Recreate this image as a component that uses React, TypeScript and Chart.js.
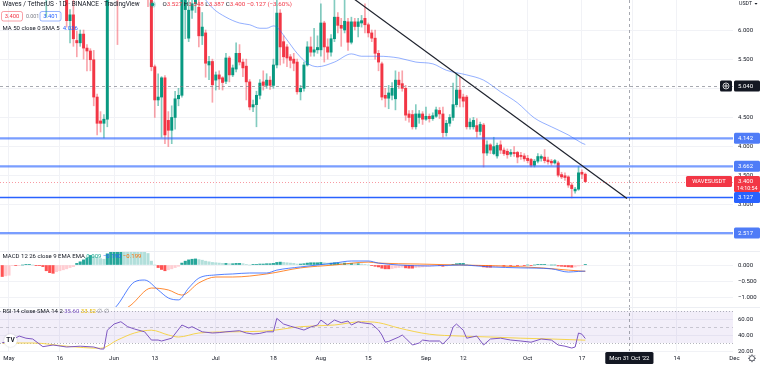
import React, { useEffect, useRef } from "react";
import { Chart, registerables } from "chart.js";

Chart.register(...registerables);

// ================= DATA =================
// day index: 0 = 1 May 2022 ; first candle = 29 Apr 2022
const FIRST_DAY = -2;

const opens = [
  8.6, 8.4, 8.2, 7.8, 7.9, 8.1, 7.7, 7.3, 7.2, 7.1,
  6.9, 7.4, 7.2, 6.8, 6.9, 7.2, 7.3, 7.0, 6.9, 6.7,
  6.16, 6.26, 5.82, 5.78, 5.93, 5.69, 5.64, 5.49, 4.85, 4.44,
  4.4, 4.47, 6.8, 7.2, 7.0, 6.9, 7.1, 7.3, 7.2, 6.9,
  7.1, 6.9, 6.8, 6.9, 6.55, 5.37, 4.8, 4.85, 5.18, 4.45,
  4.28, 4.5, 4.82, 4.88, 6.35, 5.86, 6.34, 6.45, 6.39, 5.9,
  5.95, 5.40, 5.46, 5.14, 5.23, 5.18, 5.12, 5.52, 5.23, 5.33,
  5.6, 5.45, 5.38, 5.11, 4.68, 4.72, 4.88, 5.11, 5.05, 5.14,
  5.05, 5.4, 6.29, 5.8, 5.71, 5.54, 5.5, 5.45, 4.94, 5.0,
  5.4, 5.71, 5.62, 5.66, 5.66, 6.12, 5.71, 5.62, 5.85, 6.22,
  6.08, 6.0, 6.14, 5.79, 6.14, 6.06, 6.12, 6.2, 6.09, 5.95,
  5.86, 5.6, 5.42, 4.88, 4.83, 4.88, 4.82, 5.14, 5.08, 5.0,
  4.56, 4.55, 4.34, 4.5, 4.56, 4.47, 4.52, 4.48, 4.52, 4.62,
  4.56, 4.24, 4.4, 4.5, 4.72, 4.97, 4.85, 4.85, 4.34, 4.34,
  4.36, 4.26, 4.37, 3.89, 4.03, 3.88, 3.84, 4.03, 3.94, 3.92,
  3.87, 3.9, 3.9, 3.85, 3.84, 3.8, 3.78, 3.68, 3.75, 3.8,
  3.82, 3.77, 3.75, 3.72, 3.72, 3.52, 3.5, 3.48, 3.34, 3.24,
  3.27, 3.56, 3.527,
];
const highs = [
  9.0, 8.8, 8.5, 8.1, 8.3, 8.4, 7.9, 7.6, 7.5, 7.3,
  7.6, 7.8, 7.3, 7.0, 7.4, 7.5, 7.4, 7.2, 7.1, 6.9,
  6.35, 6.6, 5.98, 6.0, 6.0, 5.75, 5.68, 5.65, 4.9, 4.6,
  4.55, 7.0, 7.4, 7.6, 7.2, 7.3, 7.5, 7.6, 7.4, 7.3,
  7.3, 7.1, 7.0, 7.0, 6.7, 5.4, 5.25, 5.2, 5.22, 4.6,
  4.7, 4.95, 5.0, 6.9, 6.9, 6.6, 6.6, 6.8, 6.7, 6.3,
  6.0, 5.55, 5.5, 5.28, 5.3, 5.2, 5.6, 5.55, 5.4, 5.78,
  5.75, 5.5, 5.5, 5.15, 4.8, 4.95, 5.15, 5.3, 5.25, 5.2,
  5.5, 6.6, 6.35, 5.9, 5.75, 5.58, 5.6, 5.5, 5.05, 5.45,
  5.8, 5.88, 6.03, 5.9, 6.45, 6.15, 5.85, 5.92, 6.55, 6.3,
  6.2, 6.6, 6.2, 6.22, 6.2, 6.2, 6.25, 6.45, 6.12, 6.0,
  6.0, 5.65, 5.45, 5.0, 5.05, 5.1, 5.3, 5.28, 5.3, 5.05,
  4.62, 4.62, 4.72, 4.62, 4.6, 4.68, 4.56, 4.58, 4.68, 4.67,
  4.68, 4.45, 4.55, 5.09, 5.26, 5.19, 4.9, 4.88, 4.48, 4.5,
  4.48, 4.42, 4.4, 4.1, 4.05, 4.16, 4.06, 4.1, 3.98, 3.96,
  3.95, 4.0, 3.92, 3.9, 3.88, 3.85, 3.8, 3.78, 3.88, 3.86,
  3.95, 3.82, 3.78, 3.78, 3.75, 3.56, 3.55, 3.5, 3.38, 3.3,
  3.66, 3.6, 3.548,
];
const lows = [
  8.2, 8.0, 7.6, 7.4, 7.7, 7.6, 7.1, 6.9, 6.9, 6.7,
  6.8, 7.0, 6.6, 6.22, 6.8, 6.9, 6.9, 6.7, 6.6, 6.05,
  5.78, 5.72, 5.54, 5.72, 5.5, 5.3, 5.3, 4.7, 4.2, 4.25,
  4.15, 4.34, 6.6, 6.9, 5.75, 6.7, 6.9, 7.0, 6.8, 6.7,
  6.8, 6.6, 6.55, 6.4, 5.3, 4.5, 4.7, 4.16, 4.05, 4.0,
  4.05, 4.3, 4.7, 4.85, 5.85, 5.8, 6.2, 6.3, 5.71, 5.75,
  5.19, 5.15, 4.76, 4.97, 4.98, 4.97, 5.08, 5.11, 5.2, 5.28,
  5.4, 5.2, 4.8, 4.63, 4.6, 4.34, 4.82, 4.97, 5.0, 4.98,
  5.0, 5.35, 5.4, 5.43, 5.37, 5.35, 5.3, 4.9, 4.8, 4.95,
  5.38, 5.55, 5.55, 5.6, 5.55, 5.45, 5.5, 5.55, 5.8, 5.95,
  5.72, 5.95, 5.65, 5.76, 6.0, 5.88, 6.05, 5.95, 5.88, 5.8,
  5.5, 5.3, 4.8, 4.68, 4.65, 4.8, 4.63, 5.0, 4.95, 4.45,
  4.42, 4.3, 4.3, 4.4, 4.38, 4.45, 4.42, 4.45, 4.5, 4.48,
  4.16, 4.18, 4.35, 4.45, 4.68, 4.68, 4.68, 4.3, 4.3, 4.3,
  4.16, 4.2, 3.65, 3.85, 3.88, 3.86, 3.8, 3.88, 3.85, 3.8,
  3.83, 3.83, 3.72, 3.78, 3.75, 3.72, 3.65, 3.65, 3.72, 3.75,
  3.72, 3.7, 3.68, 3.7, 3.48, 3.45, 3.42, 3.3, 3.12, 3.2,
  3.25, 3.45, 3.387,
];
const closes = [
  8.4, 8.2, 7.8, 7.9, 8.1, 7.7, 7.3, 7.2, 7.1, 6.9,
  7.4, 7.2, 6.8, 6.9, 7.2, 7.3, 7.0, 6.9, 6.7, 6.16,
  6.26, 5.85, 5.78, 5.93, 5.69, 5.64, 5.49, 4.85, 4.4, 4.4,
  4.47, 6.8, 7.2, 7.0, 6.9, 7.1, 7.3, 7.2, 6.9, 7.1,
  6.9, 6.8, 6.9, 6.55, 5.37, 4.8, 4.85, 5.18, 4.2, 4.28,
  4.5, 4.82, 4.88, 6.7, 6.6, 6.34, 6.45, 6.6, 5.9, 6.05,
  5.43, 5.46, 5.06, 5.23, 5.16, 5.1, 5.52, 5.23, 5.35, 5.6,
  5.45, 5.35, 5.11, 4.68, 4.72, 4.88, 5.09, 5.05, 5.14, 5.05,
  5.4, 6.29, 5.71, 5.54, 5.52, 5.48, 5.43, 4.94, 5.0, 5.4,
  5.71, 5.62, 5.66, 5.7, 6.12, 5.71, 5.62, 5.85, 6.22, 6.08,
  6.03, 6.15, 5.79, 6.14, 6.06, 6.14, 6.16, 6.09, 5.95, 5.86,
  5.6, 5.45, 4.85, 4.83, 4.92, 5.0, 5.14, 5.06, 5.0, 4.54,
  4.5, 4.34, 4.56, 4.56, 4.47, 4.52, 4.48, 4.53, 4.63, 4.56,
  4.24, 4.4, 4.5, 4.72, 4.97, 4.83, 4.78, 4.34, 4.42, 4.45,
  4.26, 4.38, 3.89, 4.03, 3.94, 4.0, 4.02, 3.94, 3.88, 3.86,
  3.9, 3.88, 3.82, 3.83, 3.79, 3.76, 3.68, 3.75, 3.83, 3.83,
  3.76, 3.74, 3.72, 3.76, 3.51, 3.48, 3.47, 3.34, 3.28, 3.27,
  3.55, 3.527, 3.4,
];

// MA 50
const maDays = [55, 60, 64, 68, 71, 74, 76, 78, 79, 82, 85, 88, 91, 96, 101, 104, 109, 115, 120, 125, 129, 135, 140, 145, 150, 155, 160, 165, 169, 170];
const maValues = [6.75, 6.38, 6.22, 6.12, 6.09, 6.03, 6.03, 6.07, 6.05, 5.83, 5.6, 5.43, 5.37, 5.45, 5.59, 5.55, 5.55, 5.52, 5.45, 5.42, 5.31, 5.23, 5.14, 4.94, 4.75, 4.49, 4.34, 4.2, 4.06, 4.036];

// drawings
const trendDays = [95, 182.3];
const trendValues = [6.82, 3.11];
const supportLevels = [4.142, 3.662, 3.127, 2.517];
const crosshairDay = 183;
const crosshairPrice = 5.04;
const lastPrice = 3.4;

// MACD
const macdHist = [
  -0.36, -0.34, -0.32, -0.02, -0.02, -0.01, 0.0, 0.01, 0.01, 0.0,
  -0.01, -0.02, -0.05, -0.18, -0.24, -0.26, -0.21, -0.18, -0.15, -0.12,
  -0.08, -0.05, 0.05, 0.1, 0.16, 0.22, 0.3, 0.28, 0.24, 0.2,
  0.18, 0.35, 0.5, 0.62, 0.7, 0.74, 0.72, 0.7, 0.68, 0.64,
  0.6, 0.55, 0.48, 0.36, 0.12, 0.0, -0.08, -0.14, -0.18, -0.15,
  -0.12, -0.08, -0.04, 0.06, 0.12, 0.16, 0.18, 0.19, 0.17, 0.15,
  0.12, 0.1, 0.08, 0.07, 0.06, 0.05, 0.05, 0.04, 0.04, 0.05,
  0.05, 0.04, 0.02, 0.0, 0.01, 0.02, 0.03, 0.03, 0.04, 0.04,
  0.05, 0.08, 0.09, 0.08, 0.07, 0.06, 0.05, 0.03, 0.03, 0.04,
  0.06, 0.07, 0.07, 0.07, 0.08, 0.07, 0.06, 0.06, 0.07, 0.07,
  0.06, 0.06, 0.05, 0.05, 0.04, 0.04, 0.03, 0.02, 0.0, -0.02,
  -0.04, -0.06, -0.1, -0.12, -0.12, -0.11, -0.09, -0.08, -0.07, -0.09,
  -0.1, -0.1, -0.08, -0.07, -0.06, -0.05, -0.04, -0.03, -0.02, -0.02,
  -0.04, -0.03, -0.02, 0.01, 0.04, 0.05, 0.05, 0.02, 0.0, -0.01,
  -0.02, -0.02, -0.06, -0.07, -0.07, -0.06, -0.05, -0.04, -0.04, -0.03,
  -0.03, -0.02, -0.02, -0.01, -0.01, 0.0, -0.01, 0.0, 0.01, 0.01,
  0.01, 0.0, 0.0, 0.0, -0.03, -0.04, -0.05, -0.06, -0.07, -0.06,
  -0.03, -0.01, 0.009,
];
const macdDays = [28, 32, 37, 40, 44, 47, 50, 53, 56, 61, 66, 71, 76, 79, 86, 96, 101, 106, 109, 115, 124, 133, 142, 151, 160, 165, 168, 170];
const macdValues = [-1.7, -1.25, -0.53, -0.47, -0.78, -1.03, -1.09, -0.72, -0.41, -0.31, -0.28, -0.25, -0.25, -0.16, -0.06, 0.06, 0.125, 0.125, 0.06, 0.0, -0.03, 0.0, -0.06, -0.09, -0.12, -0.22, -0.2, -0.19];
const signalDays = [30, 36, 42, 47, 51, 56, 61, 66, 76, 86, 96, 106, 109, 121, 133, 145, 157, 165, 170];
const signalValues = [-1.7, -1.25, -0.72, -0.78, -0.94, -0.56, -0.375, -0.375, -0.28, -0.09, 0.0, 0.09, 0.06, 0.03, 0.0, -0.03, -0.09, -0.16, -0.199];

// RSI
const rsiDays = [-2, 0, 3, 5, 7, 10, 13, 17, 21, 25, 27, 28, 29, 31, 33, 35, 37, 40, 42, 44, 45, 48, 51, 53, 54, 57, 60, 62, 64, 68, 70, 72, 74, 76, 78, 79, 81, 83, 85, 87, 89, 91, 92, 94, 96, 98, 100, 101, 103, 104, 107, 109, 110, 111, 112, 115, 116, 117, 119, 121, 122, 124, 127, 128, 130, 131, 132, 134, 135, 138, 140, 142, 145, 148, 151, 154, 157, 160, 162, 164, 166, 167, 168, 169, 170];
const rsiValues = [30.4, 31.6, 38.7, 36, 35, 25.4, 27.5, 25, 26, 25, 22.5, 22.5, 46, 53.7, 56.6, 50.4, 47.5, 44, 33.7, 33.7, 32.5, 36, 52.5, 48.7, 50.4, 44, 42.5, 43, 44, 45.4, 42.5, 41.2, 42, 44, 44, 60.8, 53.7, 51, 48.7, 46.2, 50, 52.5, 58.7, 52.5, 58.7, 55.4, 57.5, 52.5, 56.6, 55.4, 53.7, 46.2, 40, 31, 32, 37.5, 40, 36, 27.5, 30, 33.7, 32.5, 32.5, 28.7, 37.5, 50, 53.7, 46, 36, 38.7, 27.5, 35, 36, 33.7, 32.5, 31, 35, 33.7, 27.5, 26, 23.7, 25, 42.5, 41, 35.6];
const rsiSmaDays = [-2, 7, 17, 27, 32, 37, 42, 47, 50, 56, 66, 76, 86, 96, 104, 109, 115, 124, 133, 142, 151, 160, 170];
const rsiSmaValues = [30, 30, 26, 23.4, 33.7, 42.5, 46, 40, 37.5, 42.5, 44, 45, 50.4, 52.5, 56.6, 55.4, 48.7, 41, 38.7, 37.5, 36, 35, 33.52];

// axes
const timeTickDays = [0, 15, 31, 43, 61, 78, 92, 106, 123, 134, 153, 169, 184, 197, 214];
const timeTickLabels = ["May", "16", "Jun", "13", "Jul", "18", "Aug", "15", "Sep", "12", "Oct", "17", "Nov", "14", "Dec"];
const priceTicks = [6, 5.5, 5, 4.5, 4, 3.5, 3, 2.5];
const macdTicks = [0, -0.5, -1];
const rsiTicks = [60, 40, 20];

// ================= LAYOUT / STYLE =================
const W = 760, H = 365, AXIS_W = 27;
const MAIN_H = 251, MACD_TOP = 251, MACD_H = 56, RSI_TOP = 307, RSI_H = 58, XAXIS_H = 14;
const PX_PER_DAY = 3.39, DAY0_X = 9;
const X_MIN = -DAY0_X / PX_PER_DAY;
const X_MAX = (W - AXIS_W - DAY0_X) / PX_PER_DAY;
const MAIN_MAX = 6.5146, MAIN_MIN = 2.2093;
const MACD_MAX = 0.4375, MACD_MIN = -1.3125;
const RSI_MAX = 75, RSI_MIN = 20;

const FAMILY = "Roboto, 'Noto Sans', 'Liberation Sans', Arial, sans-serif";
const TEXT = "#131722";
const MUTED = "#787b86";
const GRID = "#f1f2f6";
const UP = "#089981", DOWN = "#f23645";
const UP_WICK = "rgba(8,153,129,0.5)", DOWN_WICK = "rgba(242,54,69,0.45)";
const BLUE = "#2962ff";
const LEVEL_LIGHT = "rgba(41,98,255,0.62)";

// ================= HELPERS =================
function fnt(size: number, weight = "400") {
  return `${weight} ${size}px ${FAMILY}`;
}
function txt(ctx: CanvasRenderingContext2D, s: string, x: number, y: number, color: string, size: number, align: CanvasTextAlign = "left", weight = "400") {
  ctx.font = fnt(size, weight);
  ctx.fillStyle = color;
  ctx.textAlign = align;
  ctx.textBaseline = "middle";
  ctx.fillText(s, x, y);
  return ctx.measureText(s).width;
}
function runs(ctx: CanvasRenderingContext2D, parts: [string, string][], x: number, y: number, size: number) {
  for (const [s, c] of parts) x += txt(ctx, s, x, y, c, size);
  return x;
}
function line(ctx: CanvasRenderingContext2D, x1: number, y1: number, x2: number, y2: number, color: string, dash: number[] = [], width = 1) {
  ctx.save();
  ctx.strokeStyle = color;
  ctx.lineWidth = width;
  ctx.setLineDash(dash);
  ctx.beginPath();
  ctx.moveTo(x1, y1);
  ctx.lineTo(x2, y2);
  ctx.stroke();
  ctx.restore();
}
function rrect(ctx: CanvasRenderingContext2D, x: number, y: number, w: number, h: number, r: number) {
  ctx.beginPath();
  ctx.moveTo(x + r, y);
  ctx.lineTo(x + w - r, y);
  ctx.quadraticCurveTo(x + w, y, x + w, y + r);
  ctx.lineTo(x + w, y + h - r);
  ctx.quadraticCurveTo(x + w, y + h, x + w - r, y + h);
  ctx.lineTo(x + r, y + h);
  ctx.quadraticCurveTo(x, y + h, x, y + h - r);
  ctx.lineTo(x, y + r);
  ctx.quadraticCurveTo(x, y, x + r, y);
  ctx.closePath();
}
const fmt3 = (v: number) => (v < -1e-9 ? "\u2212" : "") + Math.abs(v).toFixed(3);
const fmt2 = (v: number) => v.toFixed(2);

function xScale(axisH: number) {
  return {
    type: "linear",
    min: X_MIN,
    max: X_MAX,
    offset: false,
    afterBuildTicks: (ax: any) => {
      ax.ticks = timeTickDays.filter((d) => d > X_MIN && d < X_MAX).map((v) => ({ value: v }));
    },
    afterFit: (ax: any) => {
      ax.height = axisH;
      ax.paddingLeft = 0;
      ax.paddingRight = 0;
    },
    ticks: { display: false },
    grid: { color: GRID, drawTicks: false, offset: false },
    border: { display: false },
  };
}
function yScale(min: number, max: number, ticks: number[], fmt: (v: number) => string) {
  return {
    position: "right",
    min,
    max,
    afterBuildTicks: (ax: any) => {
      ax.ticks = ticks.map((v) => ({ value: v }));
    },
    afterFit: (ax: any) => {
      ax.width = AXIS_W;
      ax.paddingTop = 0;
      ax.paddingBottom = 0;
    },
    ticks: {
      callback: (v: any) => fmt(Number(v)),
      color: TEXT,
      font: { family: FAMILY, size: 6 },
      padding: 5,
      autoSkip: false,
    },
    grid: { color: GRID, drawTicks: false },
    border: { display: false },
  };
}
const baseOptions = {
  responsive: false,
  maintainAspectRatio: false,
  animation: false,
  events: [],
  layout: { padding: 0 },
  plugins: { legend: { display: false }, tooltip: { enabled: false } },
};
const xy = (days: number[], vals: number[]) => days.map((d, i) => ({ x: d, y: vals[i] }));

function crosshairV(chart: any) {
  const { ctx, chartArea: a, scales } = chart;
  const cx = Math.round(scales.x.getPixelForValue(crosshairDay)) + 0.5;
  line(ctx, cx, a.top, cx, a.bottom, "rgba(120,123,134,0.65)", [3, 3]);
}

// ================= MAIN PANE =================
function buildMain(canvas: HTMLCanvasElement) {
  const candleDays = opens.map((_, i) => FIRST_DAY + i);
  const isUp = (i: number) => closes[i] >= opens[i];
  const decor = {
    id: "mainDecor",
    afterDatasetsDraw(chart: any) {
      const { ctx, chartArea: a, scales } = chart;
      const py = Math.round(scales.y.getPixelForValue(lastPrice)) + 0.5;
      line(ctx, a.left, py, a.right, py, "rgba(242,54,69,0.5)", [1, 2]);
      crosshairV(chart);
      const cy = Math.round(scales.y.getPixelForValue(crosshairPrice)) + 0.5;
      line(ctx, a.left, cy, a.right, cy, "rgba(120,123,134,0.65)", [3, 3]);
    },
    afterDraw(chart: any) {
      const { ctx, chartArea: a, scales } = chart;
      const y = scales.y;
      ctx.save();
      const bx = a.right + 1;
      const bw = W - bx;
      const box = (value: number, label: string, bg: string) => {
        const yy = y.getPixelForValue(value);
        ctx.fillStyle = bg;
        rrect(ctx, bx, yy - 5.5, bw, 11, 1.5);
        ctx.fill();
        txt(ctx, label, bx + 4, yy + 0.3, "#ffffff", 6);
      };
      box(crosshairPrice, fmt3(crosshairPrice), TEXT);
      box(supportLevels[0], fmt3(supportLevels[0]), "#4f7cf7");
      box(supportLevels[1], fmt3(supportLevels[1]), "#4f7cf7");
      box(supportLevels[2], fmt3(supportLevels[2]), BLUE);
      box(supportLevels[3], fmt3(supportLevels[3]), "#4f7cf7");
      // last price box (two lines)
      const py = y.getPixelForValue(lastPrice);
      ctx.fillStyle = DOWN;
      rrect(ctx, bx, py - 5.5, bw, 16, 1.5);
      ctx.fill();
      txt(ctx, fmt3(lastPrice), bx + 4, py + 0.3, "#ffffff", 6);
      txt(ctx, "14:10:54", bx + 3, py + 6.8, "#ffffff", 5.3);
      // symbol tag
      ctx.fillStyle = DOWN;
      rrect(ctx, a.right - 47, py - 5.5, 46, 11, 1.5);
      ctx.fill();
      txt(ctx, "WAVESUSDT", a.right - 24, py + 0.3, "#ffffff", 5.8, "center");
      // crosshair "+" button
      const cy = y.getPixelForValue(crosshairPrice);
      ctx.fillStyle = TEXT;
      rrect(ctx, a.right - 13, cy - 5.5, 12, 11, 1.5);
      ctx.fill();
      ctx.strokeStyle = "#ffffff";
      ctx.lineWidth = 0.8;
      ctx.beginPath();
      ctx.arc(a.right - 7, cy, 3, 0, Math.PI * 2);
      ctx.stroke();
      line(ctx, a.right - 9, cy, a.right - 5, cy, "#ffffff", [], 0.8);
      line(ctx, a.right - 7, cy - 2, a.right - 7, cy + 2, "#ffffff", [], 0.8);
      // currency
      txt(ctx, "USDT", bx + 5, 3.8, TEXT, 5.3);
      ctx.fillStyle = TEXT;
      ctx.beginPath();
      ctx.moveTo(bx + 20.5, 3);
      ctx.lineTo(bx + 23.5, 3);
      ctx.lineTo(bx + 22, 4.8);
      ctx.closePath();
      ctx.fill();

      // legend row 1
      txt(ctx, "Waves / TetherUS \u00b7 1D \u00b7 BINANCE \u00b7 TradingView", 2.5, 4.8, TEXT, 6.5);
      ctx.fillStyle = "rgba(8,153,129,0.25)";
      ctx.beginPath();
      ctx.arc(152.5, 4.5, 3.3, 0, Math.PI * 2);
      ctx.fill();
      ctx.fillStyle = UP;
      ctx.beginPath();
      ctx.arc(152.5, 4.5, 1.8, 0, Math.PI * 2);
      ctx.fill();
      runs(
        ctx,
        [
          ["O", TEXT], ["3.527", DOWN], [" H", TEXT], ["3.548", DOWN], [" L", TEXT], ["3.387", DOWN],
          [" C", TEXT], ["3.400", DOWN], [" \u22120.127 (\u22123.60%)", DOWN],
        ],
        162.5, 4.8, 6.2
      );
      // legend row 2
      ctx.strokeStyle = "rgba(242,54,69,0.6)";
      ctx.lineWidth = 0.8;
      rrect(ctx, 1.5, 11.5, 21, 9.5, 2);
      ctx.stroke();
      txt(ctx, "3.400", 12, 16.4, DOWN, 5.8, "center");
      txt(ctx, "0.001", 26, 16.4, MUTED, 5.3);
      ctx.strokeStyle = "rgba(41,98,255,0.6)";
      rrect(ctx, 40, 11.5, 21, 9.5, 2);
      ctx.stroke();
      txt(ctx, "3.401", 50.5, 16.4, BLUE, 5.8, "center");
      // legend row 3
      const e = 2.5 + txt(ctx, "MA 50 close 0 SMA 5", 2.5, 28.2, TEXT, 6);
      txt(ctx, "4.036", e + 3, 28.2, BLUE, 6);
      ctx.restore();
    },
  };

  return new Chart(canvas, {
    type: "bar",
    data: {
      datasets: [
        {
          type: "line",
          data: xy(trendDays, trendValues),
          borderColor: "#1e222d",
          borderWidth: 1.2,
          pointRadius: 0,
          order: 0,
        },
        ...supportLevels.map((v, k) => ({
          type: "line",
          data: [{ x: X_MIN, y: v }, { x: X_MAX, y: v }],
          borderColor: k === 2 ? BLUE : LEVEL_LIGHT,
          borderWidth: k === 2 ? 1.6 : 2.2,
          pointRadius: 0,
          order: 1,
        })),
        {
          type: "line",
          data: xy(maDays, maValues),
          borderColor: "rgba(41,98,255,0.5)",
          borderWidth: 1,
          pointRadius: 0,
          cubicInterpolationMode: "monotone",
          order: 2,
        },
        {
          type: "bar",
          data: candleDays.map((d, i) => ({ x: d, y: [Math.min(opens[i], closes[i]), Math.max(opens[i], closes[i])] })),
          backgroundColor: (c: any) => (isUp(c.dataIndex) ? UP : DOWN),
          barThickness: 2.3,
          minBarLength: 1,
          grouped: false,
          borderWidth: 0,
          order: 10,
        },
        {
          type: "bar",
          data: candleDays.map((d, i) => ({ x: d, y: [lows[i], highs[i]] })),
          backgroundColor: (c: any) => (isUp(c.dataIndex) ? UP_WICK : DOWN_WICK),
          barThickness: 1,
          grouped: false,
          borderWidth: 0,
          order: 11,
        },
      ],
    } as any,
    options: {
      ...baseOptions,
      scales: { x: xScale(0), y: yScale(MAIN_MIN, MAIN_MAX, priceTicks, fmt3) },
    } as any,
    plugins: [decor],
  });
}

// ================= MACD PANE =================
function buildMacd(canvas: HTMLCanvasElement) {
  const days = macdHist.map((_, i) => FIRST_DAY + i);
  const histColor = (i: number) => {
    const v = macdHist[i];
    const p = i > 0 ? macdHist[i - 1] : v;
    if (v >= 0) return v >= p ? "#26a69a" : "#b2dfdb";
    return v <= p ? "#ff5252" : "#ffcdd2";
  };
  const decor = {
    id: "macdDecor",
    afterDatasetsDraw(chart: any) {
      crosshairV(chart);
    },
    afterDraw(chart: any) {
      const { ctx } = chart;
      ctx.save();
      ctx.fillStyle = "#eceef3";
      ctx.fillRect(0, 0, W, 1);
      runs(
        ctx,
        [["MACD 12 26 close 9 EMA EMA ", TEXT], ["0.009 ", "#22ab94"], ["\u22120.190 ", BLUE], ["\u22120.199", "#ff6d00"]],
        2.5, 5.5, 6
      );
      ctx.restore();
    },
  };
  return new Chart(canvas, {
    type: "bar",
    data: {
      datasets: [
        {
          type: "line",
          data: xy(macdDays, macdValues),
          borderColor: "rgba(41,98,255,0.8)",
          borderWidth: 1,
          pointRadius: 0,
          cubicInterpolationMode: "monotone",
          order: 1,
        },
        {
          type: "line",
          data: xy(signalDays, signalValues),
          borderColor: "rgba(255,109,0,0.8)",
          borderWidth: 1,
          pointRadius: 0,
          cubicInterpolationMode: "monotone",
          order: 2,
        },
        {
          type: "bar",
          data: days.map((d, i) => ({ x: d, y: macdHist[i] })),
          backgroundColor: (c: any) => histColor(c.dataIndex),
          barThickness: 2.4,
          grouped: false,
          borderWidth: 0,
          order: 5,
        },
      ],
    } as any,
    options: {
      ...baseOptions,
      scales: { x: xScale(0), y: yScale(MACD_MIN, MACD_MAX, macdTicks, fmt3) },
    } as any,
    plugins: [decor],
  });
}

// ================= RSI PANE + TIME AXIS =================
function buildRsi(canvas: HTMLCanvasElement) {
  const decor = {
    id: "rsiDecor",
    beforeDatasetsDraw(chart: any) {
      const { ctx, chartArea: a, scales } = chart;
      const y70 = scales.y.getPixelForValue(70);
      const y30 = scales.y.getPixelForValue(30);
      const y50 = Math.round(scales.y.getPixelForValue(50)) + 0.5;
      ctx.save();
      ctx.fillStyle = "rgba(126,87,194,0.1)";
      ctx.fillRect(a.left, y70, a.right - a.left, y30 - y70);
      line(ctx, a.left, Math.round(y70) + 0.5, a.right, Math.round(y70) + 0.5, "rgba(120,123,134,0.55)", [1, 2]);
      line(ctx, a.left, Math.round(y30) + 0.5, a.right, Math.round(y30) + 0.5, "rgba(120,123,134,0.55)", [1, 2]);
      line(ctx, a.left, y50, a.right, y50, "rgba(120,123,134,0.35)", [3, 3]);
      ctx.restore();
    },
    afterDatasetsDraw(chart: any) {
      crosshairV(chart);
    },
    afterDraw(chart: any) {
      const { ctx, chartArea: a, scales } = chart;
      ctx.save();
      ctx.fillStyle = "#eceef3";
      ctx.fillRect(0, 0, W, 1);
      runs(
        ctx,
        [["RSI 14 close SMA 14 2 ", TEXT], ["35.60 ", "#7e57c2"], ["33.52 ", "#e6b800"], ["\u2205 \u2205", MUTED]],
        2.5, 4.8, 6
      );
      // logo
      ctx.fillStyle = "#ffffff";
      ctx.shadowColor = "rgba(0,0,0,0.18)";
      ctx.shadowBlur = 2;
      ctx.beginPath();
      ctx.arc(10.5, 33.5, 6.5, 0, Math.PI * 2);
      ctx.fill();
      ctx.shadowBlur = 0;
      ctx.shadowColor = "transparent";
      txt(ctx, "TV", 10.5, 33.8, TEXT, 6.5, "center", "700");
      // time labels
      const ly = a.bottom + XAXIS_H / 2 + 0.3;
      timeTickDays.forEach((d, i) => {
        txt(ctx, timeTickLabels[i], scales.x.getPixelForValue(d), ly, TEXT, 6, "center");
      });
      // crosshair date label
      const cx = scales.x.getPixelForValue(crosshairDay);
      const label = "Mon 31 Oct '22";
      ctx.font = fnt(6);
      const tw = ctx.measureText(label).width + 8;
      ctx.fillStyle = TEXT;
      rrect(ctx, cx - tw / 2, a.bottom + 1, tw, 12, 1.5);
      ctx.fill();
      txt(ctx, label, cx, ly, "#ffffff", 6, "center");
      // gear
      const gx = W - 8, gy = ly;
      ctx.strokeStyle = "#50535e";
      ctx.lineWidth = 0.9;
      ctx.beginPath();
      ctx.arc(gx, gy, 2.6, 0, Math.PI * 2);
      ctx.stroke();
      for (let k = 0; k < 8; k++) {
        const ang = (k * Math.PI) / 4;
        line(ctx, gx + Math.cos(ang) * 2.6, gy + Math.sin(ang) * 2.6, gx + Math.cos(ang) * 3.9, gy + Math.sin(ang) * 3.9, "#50535e", [], 1);
      }
      ctx.restore();
    },
  };
  return new Chart(canvas, {
    type: "line",
    data: {
      datasets: [
        {
          data: xy(rsiDays, rsiValues),
          borderColor: "#7e57c2",
          borderWidth: 1,
          pointRadius: 0,
          tension: 0,
          order: 1,
        },
        {
          data: xy(rsiSmaDays, rsiSmaValues),
          borderColor: "rgba(245,208,60,0.9)",
          borderWidth: 1,
          pointRadius: 0,
          cubicInterpolationMode: "monotone",
          order: 2,
        },
      ],
    } as any,
    options: {
      ...baseOptions,
      scales: { x: xScale(XAXIS_H), y: yScale(RSI_MIN, RSI_MAX, rsiTicks, fmt2) },
    } as any,
    plugins: [decor],
  });
}

// ================= COMPONENT =================
export default function App() {
  const mainRef = useRef<HTMLCanvasElement>(null);
  const macdRef = useRef<HTMLCanvasElement>(null);
  const rsiRef = useRef<HTMLCanvasElement>(null);

  useEffect(() => {
    document.body.style.margin = "0";
    const charts = [buildMain(mainRef.current!), buildMacd(macdRef.current!), buildRsi(rsiRef.current!)];
    return () => charts.forEach((c) => c.destroy());
  }, []);

  const abs = (top: number, h: number): React.CSSProperties => ({
    position: "absolute", left: 0, top, width: W, height: h, display: "block",
  });

  return (
    <div style={{ position: "fixed", left: 0, top: 0, width: W, height: H, background: "#ffffff", overflow: "hidden" }}>
      <canvas ref={mainRef} width={W} height={MAIN_H} style={abs(0, MAIN_H)} />
      <canvas ref={macdRef} width={W} height={MACD_H} style={abs(MACD_TOP, MACD_H)} />
      <canvas ref={rsiRef} width={W} height={RSI_H} style={abs(RSI_TOP, RSI_H)} />
    </div>
  );
}
